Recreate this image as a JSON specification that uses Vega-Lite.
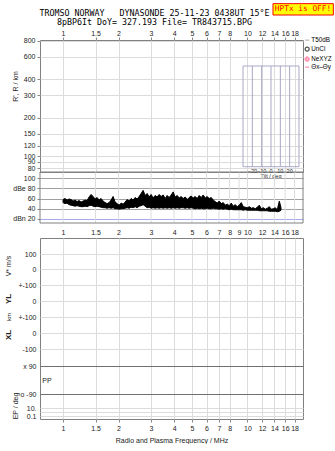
{
"$schema": "https://vega.github.io/schema/vega-lite/v6.json",
"padding": {"left": 4, "top": 2, "right": 0, "bottom": 0},
"background": "white",
"config": {
  "view": {"stroke": "#808080", "strokeWidth": 1},
  "font": "Liberation Sans",
  "axis": {"labelFontSize": 7, "labelColor": "#222", "titleFontSize": 7, "titleFontWeight": "normal", "titleColor": "#222", "tickColor": "#888", "domain": false, "gridColor": "#dcdcdc", "gridWidth": 1, "labelOverlap": false, "labelFlush": false},
  "legend": {"labelFontSize": 6.5}
},
"title": {
  "text": ["TROMSO NORWAY\u00a0\u00a0\u00a0DYNASONDE 25-11-23 0438UT 15°E", "8pBP6It DoY= 327.193 File= TR843715.BPG"],
  "font": "DejaVu Sans Mono", "fontSize": 8.3, "fontWeight": "normal", "color": "#000",
  "anchor": "middle", "frame": "group", "offset": -24, "lineHeight": 9, "dx": -17
},
"spacing": 0,
"bounds": "flush",
"resolve": {"scale": {"x": "independent", "y": "independent"}},
"vconcat": [
   {
    "width": 263, "height": 132,
    "resolve": {"scale": {"x": "independent"}},
    "layer": [
     {
      "layer": [
       {
        "data": {"values": []},
        "mark": {"type": "point"},
        "encoding": {
          "x": {"field": "f", "type": "quantitative", "scale": {"type": "log", "domain": [0.75, 20]},
                "axis": {"orient": "top", "values": [1, 1.5, 2, 3, 4, 5, 6, 7, 8, 10, 12, 14, 16, 18], "tickCount": 50, "format": "~g", "grid": true, "tickSize": 3, "labelPadding": 1, "title": null}},
          "y": {"field": "r", "type": "quantitative", "scale": {"type": "log", "domain": [75, 810]},
                "axis": {"values": [80, 90, 100, 120, 150, 200, 300, 400, 600, 800], "tickCount": 50, "format": "~g", "grid": true, "tickSize": 3, "labelPadding": 2, "title": "R', R / km", "titlePadding": 5, "titleY": 46}},
          "color": {"field": "s", "type": "nominal",
                    "scale": {"domain": ["T50dB", "UnCl", "NeXYZ", "Θx–Θy"], "range": ["#9a9a9a", "#000000", "#ff5a8a", "#ff5a8a"]},
                    "legend": {"orient": "none", "legendX": 264, "legendY": -3, "title": null, "labelFontSize": 6.3, "symbolSize": 16, "rowPadding": 0, "labelOffset": 1, "symbolStrokeWidth": 1.2, "padding": 0}},
          "shape": {"field": "s", "type": "nominal",
                    "scale": {"domain": ["T50dB", "UnCl", "NeXYZ", "Θx–Θy"], "range": ["stroke", "circle", "cross", "stroke"]},
                    "legend": {"orient": "none", "legendX": 264, "legendY": -3, "title": null, "labelFontSize": 6.3, "symbolSize": 16, "rowPadding": 0, "labelOffset": 1, "symbolStrokeWidth": 1.2, "padding": 0}}
        }
       },
       {
        "data": {"values": [{}]},
        "mark": {"type": "rect", "fill": "#ffff00", "stroke": "#ff0000", "strokeWidth": 1},
        "encoding": {
          "x": {"datum": 13.75, "type": "quantitative", "scale": {"type": "log", "domain": [0.75, 20]}},
          "x2": {"datum": 29.2},
          "y": {"datum": 1560, "type": "quantitative", "scale": {"type": "log", "domain": [75, 810]}},
          "y2": {"datum": 1271}
        }
       },
       {
        "data": {"values": [{}]},
        "mark": {"type": "text", "font": "DejaVu Sans Mono", "fontSize": 7.8, "color": "#ff0000", "align": "center", "baseline": "middle"},
        "encoding": {
          "x": {"datum": 20.0, "type": "quantitative", "scale": {"type": "log", "domain": [0.75, 20]}},
          "y": {"datum": 1410, "type": "quantitative", "scale": {"type": "log", "domain": [75, 810]}},
          "text": {"value": "HPTx is OFF!"}
        }
       }
      ]
     },
     {
      "layer": [
       {
        "data": {"values": [{}]},
        "mark": {"type": "rect", "fill": "transparent", "stroke": "#a8a8c8", "strokeWidth": 1},
        "encoding": {
          "x": {"datum": -30, "type": "quantitative", "scale": {"domain": [-247.6, 34.3]}, "axis": null},
          "x2": {"datum": 30},
          "y": {"datum": 507, "type": "quantitative", "scale": {"type": "log", "domain": [75, 810]}},
          "y2": {"datum": 82.5}
        }
       },
       {
        "data": {"values": [{"t": -20}, {"t": -10}, {"t": 0}, {"t": 10}, {"t": 20}]},
        "mark": {"type": "rule", "color": "#a8a8c8", "strokeWidth": 1},
        "encoding": {
          "x": {"field": "t", "type": "quantitative", "scale": {"domain": [-247.6, 34.3]}, "axis": null},
          "y": {"datum": 507, "type": "quantitative", "scale": {"type": "log", "domain": [75, 810]}},
          "y2": {"datum": 82.5}
        }
       },
       {
        "data": {"values": [{"t": -20}, {"t": -10}, {"t": 0}, {"t": 10}, {"t": 20}]},
        "mark": {"type": "text", "fontSize": 5.5, "color": "#222", "baseline": "middle"},
        "encoding": {
          "x": {"field": "t", "type": "quantitative", "scale": {"domain": [-247.6, 34.3]}, "axis": null},
          "y": {"datum": 76, "type": "quantitative", "scale": {"type": "log", "domain": [75, 810]}},
          "text": {"field": "t", "type": "quantitative"}
        }
       },
       {
        "data": {"values": [{}]},
        "mark": {"type": "text", "fontSize": 5.5, "color": "#222", "baseline": "middle"},
        "encoding": {
          "x": {"datum": 0, "type": "quantitative", "scale": {"domain": [-247.6, 34.3]}, "axis": null},
          "y": {"datum": 69.5, "type": "quantitative", "scale": {"type": "log", "domain": [75, 810]}},
          "text": {"value": "Tilt / deg"}
        }
       }
      ]
     }
    ]
   },
   {
    "width": 263, "height": 66,
    "view": {"stroke": null},
    "layer": [
     {
      "data": {"values": [{"g": 1}, {"g": 1.5}, {"g": 2}, {"g": 3}, {"g": 4}, {"g": 5}, {"g": 6}, {"g": 7}, {"g": 8}, {"g": 9}, {"g": 10}, {"g": 12}, {"g": 14}, {"g": 16}, {"g": 18}]},
      "mark": {"type": "rule", "color": "#dcdcdc", "strokeWidth": 1},
      "encoding": {
        "x": {"field": "g", "type": "quantitative", "scale": {"type": "log", "domain": [0.75, 20]},
              "axis": {"orient": "bottom", "offset": -15, "values": [1, 1.5, 2, 3, 4, 5, 6, 7, 8, 9, 10, 12, 14, 16, 18], "tickCount": 50, "format": "~g", "grid": false, "ticks": false, "labelPadding": 5, "title": null}},
        "y": {"datum": 12, "type": "quantitative", "scale": {"domain": [-17.4, 112]},
              "axis": {"values": [20, 40, 60, 80, 100], "tickCount": 50, "labelExpr": "datum.value == 80 ? 'dBe 80' : datum.value == 20 ? 'dBn 20' : datum.label", "grid": true,
                       "gridColor": {"condition": {"test": "datum.value == 20", "value": "#a8a8f0"}, "value": "#a0a0a0"}, "tickSize": 3, "labelPadding": 2, "title": null}},
        "y2": {"datum": 112}
      }
     },
     {
      "data": {"values": [
        {"f":1.000,"hi":58,"lo":52},{"f":1.025,"hi":60,"lo":50},{"f":1.051,"hi":57,"lo":51},{"f":1.078,"hi":59,"lo":48},{"f":1.105,"hi":58,"lo":47},
        {"f":1.133,"hi":55,"lo":46},{"f":1.162,"hi":57,"lo":45},{"f":1.191,"hi":54,"lo":46},{"f":1.221,"hi":56,"lo":45},{"f":1.252,"hi":53,"lo":44},
        {"f":1.284,"hi":55,"lo":44},{"f":1.317,"hi":57,"lo":45},{"f":1.350,"hi":56,"lo":44},{"f":1.384,"hi":63,"lo":46},{"f":1.419,"hi":68,"lo":47},
        {"f":1.455,"hi":64,"lo":45},{"f":1.492,"hi":59,"lo":44},{"f":1.530,"hi":62,"lo":45},{"f":1.568,"hi":57,"lo":44},{"f":1.608,"hi":60,"lo":43},
        {"f":1.649,"hi":55,"lo":42},{"f":1.690,"hi":52,"lo":42},{"f":1.733,"hi":50,"lo":41},{"f":1.777,"hi":52,"lo":42},{"f":1.822,"hi":57,"lo":41},
        {"f":1.868,"hi":64,"lo":42},{"f":1.916,"hi":53,"lo":40},{"f":1.964,"hi":50,"lo":40},{"f":2.014,"hi":47,"lo":39},{"f":2.065,"hi":51,"lo":40},
        {"f":2.117,"hi":49,"lo":40},{"f":2.171,"hi":53,"lo":41},{"f":2.226,"hi":58,"lo":42},{"f":2.283,"hi":55,"lo":41},{"f":2.340,"hi":60,"lo":43},
        {"f":2.399,"hi":57,"lo":42},{"f":2.460,"hi":62,"lo":44},{"f":2.523,"hi":59,"lo":42},{"f":2.586,"hi":64,"lo":45},{"f":2.652,"hi":70,"lo":46},
        {"f":2.718,"hi":76,"lo":48},{"f":2.787,"hi":66,"lo":45},{"f":2.858,"hi":70,"lo":42},{"f":2.930,"hi":63,"lo":43},{"f":3.004,"hi":68,"lo":41},
        {"f":3.080,"hi":61,"lo":42},{"f":3.158,"hi":66,"lo":41},{"f":3.238,"hi":63,"lo":42},{"f":3.320,"hi":68,"lo":41},{"f":3.404,"hi":64,"lo":42},
        {"f":3.490,"hi":67,"lo":41},{"f":3.579,"hi":60,"lo":42},{"f":3.669,"hi":66,"lo":41},{"f":3.762,"hi":62,"lo":42},{"f":3.857,"hi":67,"lo":41},
        {"f":3.955,"hi":73,"lo":42},{"f":4.055,"hi":63,"lo":41},{"f":4.158,"hi":66,"lo":42},{"f":4.263,"hi":61,"lo":41},{"f":4.371,"hi":64,"lo":42},
        {"f":4.482,"hi":60,"lo":42},{"f":4.595,"hi":63,"lo":41},{"f":4.711,"hi":58,"lo":42},{"f":4.831,"hi":62,"lo":41},{"f":4.953,"hi":65,"lo":42},
        {"f":5.078,"hi":61,"lo":41},{"f":5.207,"hi":64,"lo":40},{"f":5.339,"hi":60,"lo":41},{"f":5.474,"hi":66,"lo":40},{"f":5.613,"hi":62,"lo":41},
        {"f":5.755,"hi":67,"lo":40},{"f":5.900,"hi":61,"lo":40},{"f":6.050,"hi":64,"lo":41},{"f":6.203,"hi":60,"lo":40},{"f":6.360,"hi":62,"lo":40},
        {"f":6.521,"hi":57,"lo":41},{"f":6.686,"hi":54,"lo":40},{"f":6.856,"hi":51,"lo":40},{"f":7.029,"hi":55,"lo":39},{"f":7.207,"hi":50,"lo":40},
        {"f":7.389,"hi":52,"lo":39},{"f":7.576,"hi":47,"lo":40},{"f":7.768,"hi":49,"lo":39},{"f":7.965,"hi":46,"lo":38},{"f":8.166,"hi":51,"lo":39},
        {"f":8.373,"hi":45,"lo":38},{"f":8.585,"hi":48,"lo":38},{"f":8.803,"hi":44,"lo":38},{"f":9.025,"hi":47,"lo":38},{"f":9.254,"hi":52,"lo":38},
        {"f":9.488,"hi":44,"lo":37},{"f":9.728,"hi":43,"lo":38},{"f":9.974,"hi":42,"lo":37},{"f":10.23,"hi":44,"lo":37},{"f":10.49,"hi":41,"lo":37},
        {"f":10.75,"hi":42,"lo":37},{"f":11.02,"hi":40,"lo":37},{"f":11.30,"hi":43,"lo":37},{"f":11.59,"hi":47,"lo":36},{"f":11.88,"hi":40,"lo":36},
        {"f":12.18,"hi":42,"lo":36},{"f":12.49,"hi":39,"lo":36},{"f":12.81,"hi":41,"lo":36},{"f":13.13,"hi":44,"lo":35},{"f":13.46,"hi":39,"lo":35},
        {"f":13.80,"hi":40,"lo":35},{"f":14.15,"hi":42,"lo":35},{"f":14.51,"hi":38,"lo":34},{"f":14.88,"hi":55,"lo":35},{"f":15.20,"hi":42,"lo":37}
      ]},
      "mark": {"type": "area", "color": "#000", "stroke": "#000", "strokeWidth": 1},
      "encoding": {
        "x": {"field": "f", "type": "quantitative", "scale": {"type": "log", "domain": [0.75, 20]}},
        "y": {"field": "hi", "type": "quantitative", "scale": {"domain": [-17.4, 112]}},
        "y2": {"field": "lo"}
      }
     },
     {
      "data": {"values": [{}]},
      "mark": {"type": "rect", "fill": "transparent", "stroke": "#808080", "strokeWidth": 1},
      "encoding": {
        "x": {"datum": 0.75, "type": "quantitative", "scale": {"type": "log", "domain": [0.75, 20]}},
        "x2": {"datum": 20},
        "y": {"datum": 12, "type": "quantitative", "scale": {"domain": [-17.4, 112]}},
        "y2": {"datum": 112}
      }
     }
    ]
   },
   {
    "width": 263, "height": 181,
    "layer": [
     {
      "data": {"values": []},
      "mark": {"type": "point"},
      "encoding": {
        "x": {"field": "f", "type": "quantitative", "scale": {"type": "log", "domain": [0.75, 20]},
              "axis": {"values": [1, 1.5, 2, 3, 4, 5, 6, 7, 8, 10, 12, 14, 16, 18], "tickCount": 50, "format": "~g", "grid": true, "tickSize": 3, "labelPadding": 2, "title": "Radio and Plasma Frequency / MHz", "titlePadding": 5}},
        "y": {"field": "slot", "type": "quantitative", "scale": {"domain": [0, 181], "reverse": true},
              "axis": {"values": [16, 31, 47, 63, 79, 95, 111, 128, 156, 170, 174, 178], "tickCount": 50,
                       "labelExpr": "datum.value == 16 ? '100' : (datum.value == 31 || datum.value == 63 || datum.value == 95) ? '0' : (datum.value == 47 || datum.value == 79) ? '+-100' : datum.value == 111 ? '-100' : datum.value == 128 ? 'x  90' : datum.value == 156 ? 'o -90' : datum.value == 170 ? '10.' : datum.value == 178 ? '0.1' : ''",
                       "grid": true, "gridColor": {"condition": {"test": "datum.value == 128 || datum.value == 156", "value": "#707070"}, "value": "#dcdcdc"},
                       "tickSize": 0, "labelPadding": 4, "title": null}}
      }
     },
     {"data": {"values": [{}]}, "mark": {"type": "text", "angle": 270, "fontSize": 7, "color": "#222", "baseline": "middle"},
      "encoding": {"x": {"datum": 0.507, "type": "quantitative", "scale": {"type": "log", "domain": [0.75, 20]}}, "y": {"datum": 28, "type": "quantitative", "scale": {"domain": [0, 181], "reverse": true}}, "text": {"value": "V* m/s"}}},
     {"data": {"values": [{}]}, "mark": {"type": "text", "angle": 270, "fontSize": 8, "fontWeight": "bold", "color": "#222", "baseline": "middle"},
      "encoding": {"x": {"datum": 0.507, "type": "quantitative", "scale": {"type": "log", "domain": [0.75, 20]}}, "y": {"datum": 61, "type": "quantitative", "scale": {"domain": [0, 181], "reverse": true}}, "text": {"value": "YL"}}},
     {"data": {"values": [{}]}, "mark": {"type": "text", "angle": 270, "fontSize": 6, "color": "#222", "baseline": "middle"},
      "encoding": {"x": {"datum": 0.507, "type": "quantitative", "scale": {"type": "log", "domain": [0.75, 20]}}, "y": {"datum": 79, "type": "quantitative", "scale": {"domain": [0, 181], "reverse": true}}, "text": {"value": "km"}}},
     {"data": {"values": [{}]}, "mark": {"type": "text", "angle": 270, "fontSize": 8, "fontWeight": "bold", "color": "#222", "baseline": "middle"},
      "encoding": {"x": {"datum": 0.507, "type": "quantitative", "scale": {"type": "log", "domain": [0.75, 20]}}, "y": {"datum": 97, "type": "quantitative", "scale": {"domain": [0, 181], "reverse": true}}, "text": {"value": "XL"}}},
     {"data": {"values": [{}]}, "mark": {"type": "text", "fontSize": 7, "color": "#222", "baseline": "middle"},
      "encoding": {"x": {"datum": 0.818, "type": "quantitative", "scale": {"type": "log", "domain": [0.75, 20]}}, "y": {"datum": 143, "type": "quantitative", "scale": {"domain": [0, 181], "reverse": true}}, "text": {"value": "PP"}}},
     {"data": {"values": [{}]}, "mark": {"type": "text", "angle": 270, "fontSize": 7, "color": "#222", "baseline": "middle"},
      "encoding": {"x": {"datum": 0.556, "type": "quantitative", "scale": {"type": "log", "domain": [0.75, 20]}}, "y": {"datum": 168, "type": "quantitative", "scale": {"domain": [0, 181], "reverse": true}}, "text": {"value": "EP / deg"}}}
    ]
   }
]
}
